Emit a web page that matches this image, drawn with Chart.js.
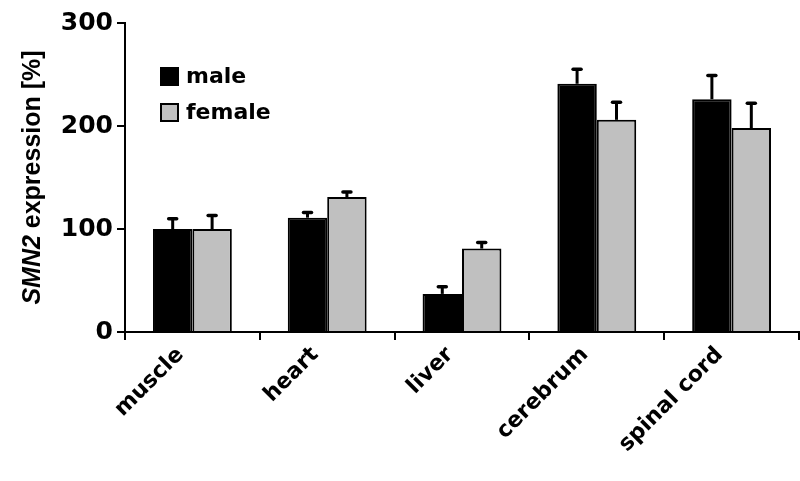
<!DOCTYPE html>
<html>
<head>
<meta charset="utf-8">
<script src="https://cdn.jsdelivr.net/npm/chart.js@4/dist/chart.umd.min.js"></script>
<style>
    html, body { margin: 0; padding: 0; background: #fff; }
    #wrap { width: 800px; height: 481px; }
</style>
</head>
<body>
<div id="wrap"><canvas id="smnChart" width="800" height="481"></canvas></div>
<script>
// Dados do grafico
var tecidos = ['muscle', 'heart', 'liver', 'cerebrum', 'spinal cord'];
var maleValues = [100, 111, 37, 241, 226];
var maleErrors = [10, 5, 7, 14, 23];
var femaleValues = [100, 131, 81, 206, 198];
var femaleErrors = [13, 5, 6, 17, 24];
var yTicks = [0, 100, 200, 300];
var legendLabels = ['male', 'female'];

var tickFont = 'DejaVu Sans';

// Barras de erro (so para cima)
var errorBarsPlugin = {
    id: 'errorBars',
    afterDatasetsDraw: function (chart) {
        var ctx = chart.ctx;
        var yScale = chart.scales.y;
        chart.data.datasets.forEach(function (ds, i) {
            var meta = chart.getDatasetMeta(i);
            meta.data.forEach(function (bar, j) {
                var top = yScale.getPixelForValue(ds.data[j] + ds.errors[j]);
                ctx.save();
                ctx.strokeStyle = '#000';
                ctx.lineWidth = 3;
                ctx.beginPath();
                ctx.moveTo(bar.x, bar.y);
                ctx.lineTo(bar.x, top);
                ctx.stroke();
                ctx.lineCap = 'round';
                ctx.lineWidth = 3.5;
                ctx.beginPath();
                ctx.moveTo(bar.x - 4, top);
                ctx.lineTo(bar.x + 4, top);
                ctx.stroke();
                ctx.restore();
            });
        });
    }
};

// Legenda dentro da area do grafico + titulo do eixo y
var extrasPlugin = {
    id: 'extras',
    afterDraw: function (chart) {
        var ctx = chart.ctx;
        var area = chart.chartArea;
        ctx.save();

        // legenda
        chart.data.datasets.forEach(function (ds, i) {
            var bx = area.left + 35;
            var by = area.top + 44 + i * 36;
            ctx.fillStyle = ds.backgroundColor;
            ctx.fillRect(bx, by, 19, 19);
            ctx.strokeStyle = '#000';
            ctx.lineWidth = 2;
            if (i > 0) ctx.strokeRect(bx + 1, by + 1, 17, 17);
            ctx.fillStyle = '#000';
            ctx.font = 'bold 22px ' + tickFont;
            ctx.textBaseline = 'middle';
            ctx.textAlign = 'left';
            ctx.fillText(legendLabels[i], bx + 26, by + 10);
        });

        // titulo do eixo y: "SMN2" em italico
        var part1 = 'SMN2';
        var part2 = ' expression [%]';
        var f1 = 'italic bold 25px "Liberation Sans"';
        var f2 = 'bold 25px "Liberation Sans"';
        ctx.font = f1;
        var w1 = ctx.measureText(part1).width;
        ctx.font = f2;
        var w2 = ctx.measureText(part2).width;
        var cy = (area.top + area.bottom) / 2;
        ctx.translate(40, cy);
        ctx.rotate(-Math.PI / 2);
        ctx.textBaseline = 'alphabetic';
        ctx.textAlign = 'left';
        var start = -(w1 + w2) / 2;
        ctx.font = f1;
        ctx.fillText(part1, start, 0);
        ctx.font = f2;
        ctx.fillText(part2, start + w1, 0);
        ctx.restore();
    }
};

var ctx = document.getElementById('smnChart').getContext('2d');
var smnChart = new Chart(ctx, {
    type: 'bar',
    data: {
        labels: tecidos,
        datasets: [{
            label: legendLabels[0],
            data: maleValues,
            errors: maleErrors,
            backgroundColor: '#000000',
            borderColor: '#000000',
            borderWidth: 2,
            barPercentage: 1.0,
            categoryPercentage: 0.585
        }, {
            label: legendLabels[1],
            data: femaleValues,
            errors: femaleErrors,
            backgroundColor: '#c0c0c0',
            borderColor: '#000000',
            borderWidth: 2,
            barPercentage: 1.0,
            categoryPercentage: 0.585
        }]
    },
    options: {
        responsive: false,
        animation: false,
        layout: {
            padding: { top: 23, right: 1, left: 0, bottom: 0 }
        },
        plugins: {
            legend: { display: false },
            tooltip: { enabled: false }
        },
        scales: {
            x: {
                offset: true,
                afterFit: function (scale) { scale.height = 149; },
                grid: {
                    offset: true,
                    drawOnChartArea: false,
                    color: '#000',
                    lineWidth: 2,
                    tickLength: 8
                },
                border: { color: '#000', width: 2 },
                ticks: {
                    color: '#000',
                    minRotation: 45,
                    maxRotation: 45,
                    padding: 2,
                    labelOffset: -12,
                    font: { family: tickFont, weight: 'bold', size: 22 }
                }
            },
            y: {
                min: yTicks[0],
                max: yTicks[yTicks.length - 1],
                afterFit: function (scale) { scale.width = 125; },
                afterBuildTicks: function (scale) {
                    scale.ticks = yTicks.map(function (v) { return { value: v }; });
                },
                grid: {
                    drawOnChartArea: false,
                    color: '#000',
                    lineWidth: 2,
                    tickLength: 8
                },
                border: { color: '#000', width: 2 },
                ticks: {
                    color: '#000',
                    padding: 4,
                    font: { family: tickFont, weight: 'bold', size: 25 }
                }
            }
        }
    },
    plugins: [errorBarsPlugin, extrasPlugin]
});
</script>
</body>
</html>
